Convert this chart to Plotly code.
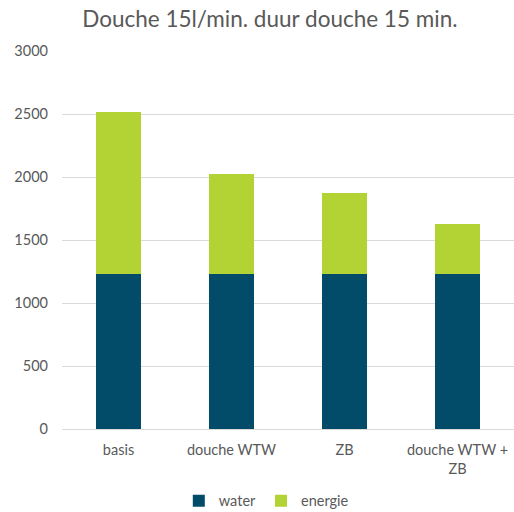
import plotly.graph_objects as go

categories = ["basis", "douche WTW", "ZB", "douche WTW +<br>ZB"]
water = [1232, 1232, 1232, 1232]
energie = [1284, 792, 641, 395]
series_names = ["water", "energie"]
y_ticks = [0, 500, 1000, 1500, 2000, 2500, 3000]

FONT = "Lato, 'Open Sans', sans-serif"
TEXT = "#595959"

fig = go.Figure()
fig.add_trace(go.Bar(x=categories, y=water, name=series_names[0],
                     marker=dict(color="#024c69", line=dict(width=0))))
fig.add_trace(go.Bar(x=categories, y=energie, name=series_names[1],
                     marker=dict(color="#b3d334", line=dict(width=0))))

fig.update_layout(
    barmode="stack",
    bargap=0.6,
    width=514, height=512,
    margin=dict(l=62, r=0, t=51, b=83, autoexpand=False),
    paper_bgcolor="white", plot_bgcolor="white",
    font=dict(family=FONT, color=TEXT, size=14.5),
    title=dict(text="Douche 15l/min. duur douche 15 min.", x=0.525, xanchor="center",
               y=0.962, yanchor="middle",
               font=dict(family=FONT, size=22.5, color=TEXT)),
    legend=dict(orientation="h", x=0.452, xanchor="center", y=-0.19, yanchor="middle",
                font=dict(size=14.5, color=TEXT), itemwidth=30, traceorder="normal"),
    showlegend=True,
)
fig.update_yaxes(range=[0, 3000], tickvals=y_ticks, showgrid=True, gridcolor="#d9d9d9",
                 gridwidth=1, zeroline=False, showline=False, ticks="", automargin=False,
                 ticklabelstandoff=13, tickfont=dict(size=14.5, color=TEXT))
fig.update_xaxes(showline=True, linecolor="#d9d9d9", linewidth=1, ticks="", automargin=False,
                 tickfont=dict(size=14.5, color=TEXT), ticklabelstandoff=8)

fig.write_html("out.html")
